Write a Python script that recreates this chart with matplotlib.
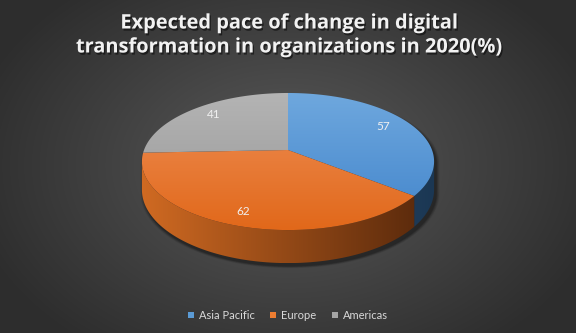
import numpy as np
import matplotlib
matplotlib.use("Agg")
import matplotlib.pyplot as plt
import matplotlib.patheffects as pe
from matplotlib.colors import LinearSegmentedColormap
from matplotlib.patches import Polygon, Patch

# --- data -----------------------------------------------------------------
TITLE_LINES = ["Expected pace of change in digital",
               "transformation in organizations in 2020(%)"]
regions = ["Asia Pacific", "Europe", "Americas"]
values = [57, 62, 41]

# colours (Excel-ish 3D pie shading)
swatch = ["#5b9bd5", "#ed7d31", "#a5a5a5"]
top_light = ["#6fa8de", "#ef9058", "#b4b4b4"]
top_dark = ["#4184cb", "#e1681a", "#979797"]
side_light = ["#3a6590", "#d06a22", "#7a7a7a"]
side_dark = ["#1b3753", "#55270b", "#5a5a5a"]

# --- layout (pixel space) ---------------------------------------------------
W, H = 576, 333
CX, CY = 288, 150          # where the slices meet
A, B = 144, 66.6           # ellipse semi-axes
P = 0.168                  # perspective strength
DEPTH = 27.5               # thickness of the pie
LABEL_R = [0.78, 0.86, 0.78]


def project(theta, r=1.0, drop=0.0):
    u, v = r * np.cos(theta), r * np.sin(theta)
    w = 1 + P * v
    return CX + A * u / w, CY - B * v / w + drop / w


def gradient_fill(ax, xy, c0, c1, horizontal=False, extent=None):
    poly = Polygon(xy, closed=True, facecolor="none", edgecolor="none")
    ax.add_patch(poly)
    cmap = LinearSegmentedColormap.from_list("g", [c0, c1])
    g = np.linspace(0, 1, 256)
    img = g[None, :] if horizontal else g[:, None]
    im = ax.imshow(img, cmap=cmap, extent=extent, aspect="auto",
                   interpolation="bilinear", zorder=poly.get_zorder())
    im.set_clip_path(poly)
    return im


fig = plt.figure(figsize=(W / 100, H / 100), dpi=100)
ax = fig.add_axes([0, 0, 1, 1])
ax.set_axis_off()

# background: radial gradient
yy, xx = np.mgrid[0:H, 0:W]
d = np.sqrt(((xx - 288) / 330.0) ** 2 + ((yy - 165) / 230.0) ** 2)
d = np.clip(d, 0, 1)
bg = LinearSegmentedColormap.from_list("bg", ["#5a5a5a", "#2d2d2d"])
ax.imshow(d, cmap=bg, extent=(0, W, H, 0), aspect="auto", zorder=0)

# slice angles: start at 12 o'clock, clockwise
frac = np.array(values) / np.sum(values)
ends = np.pi / 2 - 2 * np.pi * np.cumsum(frac)
starts = np.concatenate([[np.pi / 2], ends[:-1]])

# silhouette tangents
t_tan = np.arcsin(P)
vis_lo, vis_hi = -np.pi + t_tan, -t_tan

# soft shadow under pie
back = np.linspace(vis_hi, vis_lo + 2 * np.pi, 200)
front = np.linspace(vis_lo, vis_hi, 200)
sx1, sy1 = project(back)
sx2, sy2 = project(front, drop=DEPTH)
sil = np.column_stack([np.concatenate([sx1, sx2]), np.concatenate([sy1, sy2])])
for k, a in zip(range(6, 0, -1), [0.05, 0.06, 0.07, 0.08, 0.1, 0.12]):
    cx0, cy0 = sil.mean(axis=0)
    s = 1 + 0.004 * k
    pts = (sil - [cx0, cy0]) * s + [cx0 + 2, cy0 + 3]
    ax.add_patch(Polygon(pts, closed=True, facecolor="black", alpha=a,
                         edgecolor="none", zorder=1))

top_y0 = CY - B / (1 + P)
top_y1 = CY + B / (1 - P)
bot_y1 = top_y1 + DEPTH / (1 - P)
left_x, right_x = CX - A * 1.02, CX + A * 1.02

# side walls
for i in range(len(values)):
    lo, hi = ends[i], starts[i]
    for shift in (-2 * np.pi, 0, 2 * np.pi):
        a0 = max(lo + shift, vis_lo)
        a1 = min(hi + shift, vis_hi)
        if a1 <= a0:
            continue
        t = np.linspace(a0, a1, 120)
        x1, y1 = project(t)
        x2, y2 = project(t[::-1], drop=DEPTH)
        xy = np.column_stack([np.concatenate([x1, x2]),
                              np.concatenate([y1, y2])])
        gradient_fill(ax, xy, side_light[i], side_dark[i], horizontal=True,
                      extent=(left_x, right_x, bot_y1, top_y0)).set_zorder(2)

# top surfaces
for i in range(len(values)):
    t = np.linspace(starts[i], ends[i], 200)
    x, y = project(t)
    xy = np.column_stack([np.concatenate([[CX], x]), np.concatenate([[CY], y])])
    gradient_fill(ax, xy, top_light[i], top_dark[i],
                  extent=(left_x, right_x, top_y1, top_y0)).set_zorder(3)

# data labels
mids = (starts + ends) / 2
for i, v in enumerate(values):
    lx, ly = project(mids[i], r=LABEL_R[i])
    ax.text(lx, ly - 2, str(v), ha="center", va="center", fontsize=8.5,
            family="Lato", color="#f0f0f0", zorder=5)

# title (two lines, baselines placed separately)
shadow = [pe.withSimplePatchShadow(offset=(1, -1.5), shadow_rgbFace="black",
                                   alpha=0.5)]
for line, base in zip(TITLE_LINES, [28.5, 52.5]):
    ax.text(W / 2 + 1, base, line, ha="center", va="baseline", fontsize=14.4,
            family="Open Sans", fontweight="bold", color="#f2f2f2",
            zorder=6, path_effects=shadow)

# legend
handles = [Patch(facecolor=c, edgecolor="none", label=r)
           for c, r in zip(swatch, regions)]
leg = ax.legend(handles=handles, loc="center", bbox_to_anchor=(0.5, 1 - 315.5 / H),
                ncol=3, frameon=False, handlelength=0.55, handleheight=0.55,
                handletextpad=0.45, columnspacing=1.35,
                prop={"family": "Lato", "size": 8})
for txt in leg.get_texts():
    txt.set_color("#d9d9d9")

ax.set_xlim(0, W)
ax.set_ylim(H, 0)
fig.savefig("out.png", dpi=100)
